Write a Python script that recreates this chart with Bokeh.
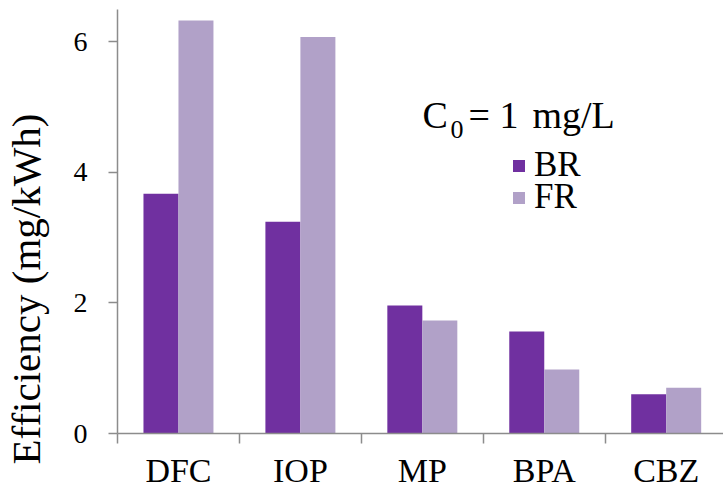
from bokeh.plotting import figure
from bokeh.models import (Range1d, FixedTicker, Legend, LegendItem, Label,
                          Title, ColumnDataSource)
from bokeh.transform import dodge
from bokeh.embed import file_html
from bokeh.resources import INLINE

# ---- data ----
categories = ["DFC", "IOP", "MP", "BPA", "CBZ"]
br_values = [3.67, 3.24, 1.96, 1.56, 0.60]
fr_values = [6.32, 6.07, 1.73, 0.98, 0.70]
y_ticks = [0, 2, 4, 6]
series_names = ["BR", "FR"]

BR_COLOR = "#7030A0"
FR_COLOR = "#B1A1C8"
AXIS_COLOR = "#8C8C8C"
FONT = "Liberation Serif"

centers = [i + 0.5 for i in range(len(categories))]
src = ColumnDataSource(dict(x=centers, br=br_values, fr=fr_values))

p = figure(width=723, height=491, output_backend="svg", toolbar_location=None,
           x_range=Range1d(0, 4.97), y_range=Range1d(0, 6.49),
           min_border_left=117, min_border_right=0, min_border_top=9,
           min_border_bottom=58)
p.outline_line_color = None
p.grid.grid_line_color = None
p.background_fill_color = "white"
p.border_fill_color = "white"

bw = 0.287
r_br = p.vbar(x=dodge("x", -bw / 2), top="br", width=bw, source=src,
              fill_color=BR_COLOR, line_color=None)
r_fr = p.vbar(x=dodge("x", bw / 2), top="fr", width=bw, source=src,
              fill_color=FR_COLOR, line_color=None)

# x axis: labels at category centres, ticks at category boundaries
xa = p.xaxis[0]
xa.ticker = FixedTicker(ticks=centers, minor_ticks=list(range(len(categories) + 1)))
xa.major_label_overrides = {c: n for c, n in zip(centers, categories)}
xa.major_tick_line_color = None
xa.major_tick_out = 10
xa.major_tick_in = 0
xa.minor_tick_out = 10
xa.minor_tick_in = 0
xa.minor_tick_line_color = AXIS_COLOR
xa.minor_tick_line_width = 1.5
xa.axis_line_color = AXIS_COLOR
xa.axis_line_width = 1.5
xa.major_label_standoff = 8
xa.major_label_text_font = FONT
xa.major_label_text_font_size = "34px"
xa.major_label_text_color = "black"

ya = p.yaxis[0]
ya.ticker = FixedTicker(ticks=y_ticks)
ya.major_tick_out = 9
ya.major_tick_in = 0
ya.minor_tick_line_color = None
ya.major_tick_line_color = AXIS_COLOR
ya.major_tick_line_width = 1.5
ya.axis_line_color = AXIS_COLOR
ya.axis_line_width = 1.5
ya.major_label_standoff = 21
ya.major_label_text_font = FONT
ya.major_label_text_font_size = "28px"
ya.major_label_text_color = "black"
# tiny blank axis label only reserves space between tick labels and title
ya.axis_label = "\u00a0"
ya.axis_label_text_font_size = "2px"
ya.axis_label_standoff = 17

# y axis title as a side title (lets it start below the frame like the original)
p.add_layout(Title(text="Efficiency (mg/kWh)", align="left", offset=-31,
                   standoff=0, text_font=FONT, text_font_size="41px",
                   text_font_style="normal", text_color="black"), "left")

# C0 = 1 mg/L
lab_kw = dict(x_units="screen", y_units="screen", text_baseline="alphabetic",
              text_font=FONT, text_color="black")
p.add_layout(Label(x=305, y=319, text="C", text_align="left",
                   text_font_size="38px", **lab_kw))
p.add_layout(Label(x=333, y=304, text="0", text_align="left",
                   text_font_size="26px", **lab_kw))
p.add_layout(Label(x=351, y=319, text="= 1", text_align="left",
                   text_font_size="38px", **lab_kw))
p.add_layout(Label(x=415, y=319, text="mg/L", text_align="left",
                   text_font_size="38px", **lab_kw))

# legend (one per item for exact placement)
for name, rend, loc in [(series_names[0], r_br, (394, 248)),
                        (series_names[1], r_fr, (394, 216))]:
    lg = Legend(items=[LegendItem(label=name, renderers=[rend])], location=loc,
                background_fill_alpha=0, border_line_alpha=0, padding=0,
                margin=0, glyph_width=15, glyph_height=15, label_standoff=8,
                label_text_font=FONT, label_text_font_size="35px",
                label_text_color="black", label_height=15)
    p.add_layout(lg)

open("out.html", "w").write(file_html(p, INLINE))
